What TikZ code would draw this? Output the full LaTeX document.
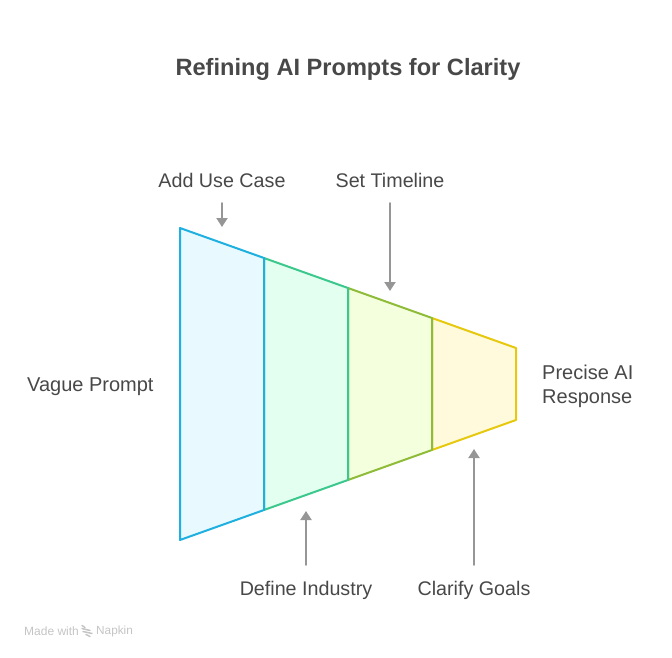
\documentclass[tikz,border=0pt]{standalone}
\usepackage{fontspec}
\setmainfont{Liberation Sans}
\usetikzlibrary{arrows.meta}
\definecolor{ink}{HTML}{484848}
\definecolor{pointer}{HTML}{969696}
\definecolor{napkingray}{HTML}{C4C4C4}
\definecolor{vagueedge}{HTML}{1FB0E0}
\definecolor{vaguefill}{HTML}{E8F9FF}
\definecolor{industryedge}{HTML}{3CC88C}
\definecolor{industryfill}{HTML}{E2FFF0}
\definecolor{timelineedge}{HTML}{8FBC38}
\definecolor{timelinefill}{HTML}{F4FFDE}
\definecolor{goaledge}{HTML}{E6C80F}
\definecolor{goalfill}{HTML}{FFFADC}
\tikzset{
  stagelabel/.style={text=ink,font=\fontsize{19.7}{24}\selectfont,inner xsep=0pt,inner ysep=14pt,
    text height=16pt,text depth=2pt},
  sidelabel/.style={text=ink,font=\fontsize{20}{24}\selectfont,inner sep=0pt,align=left},
  pointerline/.style={draw=pointer,line width=2pt,-{Triangle[length=9pt,width=11pt]}}
}

\begin{document}
\begin{tikzpicture}[x=1pt,y=-1pt,line cap=round,line join=round]
  \useasboundingbox (0,0) rectangle (672,658);

  % Title.
  \node[text=ink,font=\fontsize{23.6}{28}\selectfont\bfseries,inner sep=0pt] (title) at (348,69) {Refining AI Prompts for Clarity};

  % Funnel sections, right to left so each right edge stays on top.
  \foreach \xa/\ya/\xb/\yb/\edge/\tint in {
      432/318/516/348/goaledge/goalfill,
      348/288/432/318/timelineedge/timelinefill,
      264/258/348/288/industryedge/industryfill,
      180/228/264/258/vagueedge/vaguefill}{
    \filldraw[draw=\edge,fill=\tint,line width=2pt]
      (\xa,\ya)--(\xb,\yb)--(\xb,768-\yb)--(\xa,768-\ya)--cycle;
  }

  % Side labels.
  \node[sidelabel,anchor=west] (vague) at (27,386.5) {Vague Prompt};
  \node[sidelabel,anchor=west] (precise) at (542,386) {Precise AI\\Response};

  % Stage labels and their pointers.
  \node[stagelabel] (usecase) at (222,180) {Add Use Case};
  \node[stagelabel] (timeline) at (390,180) {Set Timeline};
  \node[stagelabel] (industry) at (306,588) {Define Industry};
  \node[stagelabel] (goals) at (474,588) {Clarify Goals};
  \coordinate (usecasetip) at (222,227);
  \coordinate (timelinetip) at (390,291);
  \coordinate (industrytip) at (306,511);
  \coordinate (goalstip) at (474,449);
  \draw[pointerline] (usecase.south)--(usecasetip);
  \draw[pointerline] (timeline.south)--(timelinetip);
  \draw[pointerline] (industry.north)--(industrytip);
  \draw[pointerline] (goals.north)--(goalstip);

  % Maker's mark.
  \node[text=napkingray,font=\fontsize{12}{14}\selectfont,inner sep=0pt,anchor=west] (made) at (24,631) {Made with};
  \node[text=napkingray,font=\fontsize{11.8}{14}\selectfont,inner sep=0pt,anchor=west] (napkin) at (96,631) {Napkin};
  \foreach \ya/\xa/\xb in {625.5/82/85,628.5/82/90,631.5/83/92,634.5/86/90}{
    \draw[napkingray,line width=1.5pt] (\xa,\ya)--(\xb,\ya+2);
  }
\end{tikzpicture}
\end{document}
